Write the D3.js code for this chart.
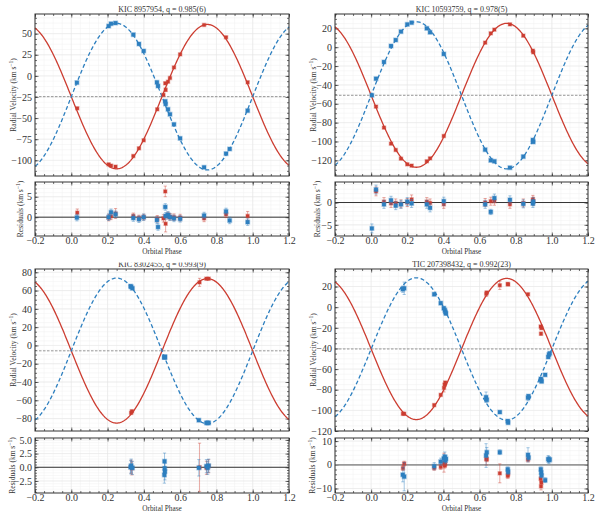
<!DOCTYPE html>
<html>
<head>
<meta charset="utf-8">
<script src="https://cdn.jsdelivr.net/npm/d3@7"></script>
<style>
body { margin: 0; background: #fff; }
text { font-family: "Liberation Serif", "Times New Roman", serif; fill: #333; }
</style>
</head>
<body>
<div id="vis"></div>
<script>
// ---- data: [phase, rv, residual, error] ----
const titles = ["KIC 8957954, q = 0.985(6)", "KIC 10593759, q = 0.978(5)",
                "KIC 8302455, q = 0.993(9)", "TIC 207398432, q = 0.992(23)"];

// orbit solutions [gamma, K1, K2]
const orbitA = [-24.6, 85.5, 86.8];
const orbitB = [-51.0, 76.3, 78.0];
const orbitC = [-5.9, 79.0, 79.6];
const orbitD = [-40.5, 68.4, 69.0];

const primaryA = [
  [0.033, -38.4, 1.1, 0.9], [0.206, -104.8, -0.1, 0.8], [0.219, -106.3, 0.2, 0.8],
  [0.244, -107.5, 0.9, 1.2], [0.342, -94.9, 0.3, 0.7], [0.373, -85.8, -0.2, 0.7],
  [0.399, -76.3, 0.0, 0.7], [0.474, -39.6, -0.4, 0.8], [0.508, -22.5, -0.3, 0.9],
  [0.518, -8.8, 6.3, 1.3], [0.520, -16.5, -1.6, 2.0], [0.533, -6.9, 0.4, 0.8],
  [0.544, -2.5, 0.1, 0.8], [0.566, 10.0, 0.0, 0.8], [0.600, 25.5, -0.1, 0.8],
  [0.732, 60.3, -0.3, 0.8], [0.853, 45.7, 0.7, 0.8], [0.972, -7.6, 0.3, 1.1]
];
const secondaryA = [
  [0.031, -8.0, -0.1, 0.8], [0.206, 59.0, 0.0, 0.8], [0.219, 61.8, 1.2, 0.8],
  [0.244, 62.6, 0.7, 0.8], [0.342, 48.8, -0.2, 0.8], [0.373, 37.8, -0.5, 0.8],
  [0.399, 29.5, 0.0, 0.8], [0.472, -7.6, -0.7, 0.8], [0.478, -12.0, -2.4, 0.8],
  [0.518, -30.1, 2.5, 0.8], [0.520, -33.3, 0.3, 0.8], [0.533, -39.6, 0.6, 0.8],
  [0.544, -45.5, 0.0, 0.8], [0.566, -57.4, -0.3, 0.8], [0.600, -74.0, -0.4, 0.8],
  [0.732, -108.3, 0.4, 0.8], [0.853, -92.1, 1.4, 0.8], [0.873, -86.6, -0.8, 0.8],
  [0.972, -41.2, -1.2, 0.8]
];

const primaryB = [
  [0.027, -63.0, 2.5, 1.0], [0.071, -85.3, 0.2, 0.9], [0.110, -102.3, -0.2, 0.9],
  [0.136, -109.0, -0.1, 0.9], [0.165, -118.2, -0.3, 0.9], [0.200, -124.2, 0.0, 0.9],
  [0.224, -125.6, 0.7, 1.0], [0.308, -121.0, 0.2, 0.9], [0.326, -117.9, -0.1, 0.9],
  [0.402, -94.2, -0.4, 0.9], [0.631, 4.8, 0.0, 0.9], [0.662, 14.7, 0.3, 0.9],
  [0.682, 18.6, 0.3, 0.9], [0.768, 24.2, -0.4, 0.9], [0.842, 12.2, -0.1, 0.9],
  [0.895, -3.7, 0.7, 0.9], [0.897, -5.4, 0.3, 0.9]
];
const secondaryB = [
  [0.004, -51.0, -5.8, 1.0], [0.027, -33.4, 2.9, 1.0], [0.071, -15.7, -0.4, 0.9],
  [0.110, 1.3, 0.5, 0.9], [0.136, 7.6, -0.7, 0.9], [0.165, 16.5, -0.4, 0.9],
  [0.200, 24.2, 0.2, 0.9], [0.224, 26.0, -0.2, 0.9], [0.308, 20.0, -0.4, 0.9],
  [0.326, 15.8, -1.2, 0.9], [0.402, -7.2, 0.3, 0.9], [0.631, -108.7, -0.4, 0.9],
  [0.662, -120.0, -2.1, 0.6], [0.682, -121.0, 1.0, 0.9], [0.768, -127.8, 0.6, 0.9],
  [0.842, -116.0, -0.3, 0.9], [0.895, -98.4, -0.2, 0.9], [0.897, -100.5, 0.2, 0.9]
];

const primaryC = [
  [0.330, -73.8, 0.1, 1.2], [0.334, -72.0, -0.2, 1.2], [0.707, 69.0, 0.0, 4.4],
  [0.745, 73.0, -0.1, 1.2], [0.757, 73.0, 0.2, 1.2]
];
const secondaryC = [
  [0.327, 64.8, 0.0, 1.2], [0.330, 64.0, 0.3, 1.2], [0.337, 62.5, -0.1, 1.2],
  [0.514, -12.8, 1.1, 1.5], [0.515, -12.5, -0.2, 1.5], [0.513, -13.0, -1.4, 1.5],
  [0.516, -12.9, -0.8, 1.5], [0.703, -81.8, -0.1, 1.5], [0.745, -84.7, 0.2, 1.2],
  [0.752, -84.7, -0.1, 1.2], [0.757, -84.7, 0.3, 1.2]
];

const primaryD = [
  [0.176, -103.3, -1.4, 1.0], [0.183, -103.3, 0.5, 1.0], [0.349, -94.9, -1.3, 1.0],
  [0.385, -85.0, -0.9, 1.0], [0.403, -78.2, 0.9, 4.0], [0.407, -75.0, -0.4, 1.0],
  [0.410, -73.0, 0.3, 1.0], [0.637, 12.9, 2.4, 2.5], [0.640, 14.2, 2.3, 1.0],
  [0.712, 21.2, -3.6, 4.0], [0.756, 22.5, -4.7, 1.0], [0.758, 22.0, -3.9, 1.0],
  [0.868, 12.5, 2.2, 1.0], [0.938, -18.7, -5.9, 1.0], [0.940, -25.7, -9.1, 1.5],
  [0.942, -20.3, -7.5, 1.0]
];
const secondaryD = [
  [0.175, 17.4, -4.2, 3.0], [0.183, 18.3, -5.0, 6.0], [0.349, 12.5, -0.6, 1.5],
  [0.385, 3.9, 1.3, 1.5], [0.402, -1.0, 2.7, 1.5], [0.408, -2.9, 3.4, 2.0],
  [0.411, -4.8, 1.9, 1.5], [0.414, -6.1, 2.5, 1.5], [0.636, -87.2, 3.9, 5.0],
  [0.640, -89.8, 5.3, 2.0], [0.712, -101.7, 5.3, 1.0], [0.756, -110.4, -1.9, 1.0],
  [0.758, -112.0, -3.0, 1.0], [0.868, -87.8, 4.2, 3.0], [0.871, -86.2, 3.0, 1.0],
  [0.939, -69.5, -1.9, 1.0], [0.941, -70.8, -3.3, 1.0], [0.943, -72.0, -4.5, 1.0],
  [0.963, -65.6, -6.5, 1.0], [0.980, -48.3, 2.4, 1.5], [0.984, -46.0, 2.0, 1.5],
  [0.988, -44.7, 2.2, 1.0]
];

const phaseTicks = [-0.2, 0.0, 0.2, 0.4, 0.6, 0.8, 1.0, 1.2];

const red = "#cc3d31";
const blue = "#2d7fbf";

const svg = d3.select("#vis")
    .append("svg")
    .attr("width", 600)
    .attr("height", 511);

svg.append("rect")
    .attr("width", 600)
    .attr("height", 511)
    .attr("fill", "#fff");

const panels = [
  {title: titles[0], orbit: orbitA, p: primaryA, s: secondaryA, left: 35, right: 289,
   rvTop: 14, rvBot: 176, resTop: 182, resBot: 236, titleY: 11.5,
   rvDom: [-118.6, 73.3], rvMajor: [-100, -75, -50, -25, 0, 25, 50], rvStep: 6.25,
   resDom: [-4.6, 8.6], resMajor: [0, 5], resStep: 1, resFmt: d3.format("d"), resLabelDx: 12, zero: "#333"},
  {title: titles[1], orbit: orbitB, p: primaryB, s: secondaryB, left: 335, right: 588,
   rvTop: 14, rvBot: 176, resTop: 182, resBot: 236, titleY: 11.5,
   rvDom: [-136.6, 35.2], rvMajor: [-120, -100, -80, -60, -40, -20, 0, 20], rvStep: 5,
   resDom: [-7.5, 4.6], resMajor: [-5, 0], resStep: 1, resFmt: d3.format("d"), resLabelDx: 15, zero: "#333"},
  {title: titles[2], orbit: orbitC, p: primaryC, s: secondaryC, left: 35, right: 289,
   rvTop: 269, rvBot: 431, resTop: 438, resBot: 493, titleY: 266.5, clipTitle: 262.5,
   rvDom: [-93.6, 83.6], rvMajor: [-80, -60, -40, -20, 0, 20, 40, 60, 80], rvStep: 5,
   resDom: [-4.7, 5.35], resMajor: [-2.5, 0, 2.5, 5], resStep: 0.5, resFmt: d3.format(".1f"), resLabelDx: 20, zero: "#333"},
  {title: titles[3], orbit: orbitD, p: primaryD, s: secondaryD, left: 335, right: 588,
   rvTop: 269, rvBot: 431, resTop: 438, resBot: 493, titleY: 267,
   rvDom: [-120, 37], rvMajor: [-120, -100, -80, -60, -40, -20, 0, 20], rvStep: 5,
   resDom: [-11.9, 11.3], resMajor: [-10, 0, 10], resStep: 2, resFmt: d3.format("d"), resLabelDx: 20, zero: "#999"}
];

function minorTicks(dom, step) {
  const lo = Math.ceil(dom[0] / step) * step;
  return d3.range(lo, dom[1], step).map(v => +v.toFixed(4));
}

// frame with grid and inward ticks on every side
function frame(g, x, y, top, bot, left, right, yMajor, yMinor, yFmt, xLabels) {
  const xMinor = minorTicks([-0.2, 1.2001], 0.05);

  g.append("g").selectAll("line").data(xMinor).join("line")
      .attr("x1", d => x(d)).attr("x2", d => x(d))
      .attr("y1", top).attr("y2", bot)
      .attr("stroke", "#f1f1f1").attr("stroke-width", 0.5);
  g.append("g").selectAll("line").data(yMinor).join("line")
      .attr("x1", left).attr("x2", right)
      .attr("y1", d => y(d)).attr("y2", d => y(d))
      .attr("stroke", "#f1f1f1").attr("stroke-width", 0.5);
  g.append("g").selectAll("line").data(phaseTicks).join("line")
      .attr("x1", d => x(d)).attr("x2", d => x(d))
      .attr("y1", top).attr("y2", bot)
      .attr("stroke", "#e4e4e4").attr("stroke-width", 0.5);
  g.append("g").selectAll("line").data(yMajor).join("line")
      .attr("x1", left).attr("x2", right)
      .attr("y1", d => y(d)).attr("y2", d => y(d))
      .attr("stroke", "#e4e4e4").attr("stroke-width", 0.5);

  const put = (gen, tr, size, fmt, pad) => {
    g.append("g")
        .attr("transform", tr)
        .attr("color", "#333")
        .attr("font-size", 6)
        .call(gen.tickSize(-size).tickPadding(pad).tickFormat(fmt))
        .call(a => a.select(".domain").remove())
        .call(a => a.selectAll("line").attr("stroke-width", 0.7));
  };
  put(d3.axisLeft(y).tickValues(yMajor), `translate(${left},0)`, 3.5, yFmt, 3);
  put(d3.axisLeft(y).tickValues(yMinor), `translate(${left},0)`, 2, "", 3);
  put(d3.axisRight(y).tickValues(yMajor), `translate(${right},0)`, 3.5, "", 3);
  put(d3.axisRight(y).tickValues(yMinor), `translate(${right},0)`, 2, "", 3);
  put(d3.axisBottom(x).tickValues(phaseTicks), `translate(0,${bot})`, 3.5, xLabels ? d3.format(".1f") : "", 1);
  put(d3.axisBottom(x).tickValues(xMinor), `translate(0,${bot})`, 2, "", 1);
  put(d3.axisTop(x).tickValues(phaseTicks), `translate(0,${top})`, 3.5, "", 1);
  put(d3.axisTop(x).tickValues(xMinor), `translate(0,${top})`, 2, "", 1);
}

function border(g, top, bot, left, right) {
  g.append("rect")
      .attr("x", left).attr("y", top)
      .attr("width", right - left).attr("height", bot - top)
      .attr("fill", "none")
      .attr("stroke", "#333")
      .attr("stroke-width", 1);
}

function points(g, data, x, y, idx, color, size) {
  const cap = 1.6;
  const e = g.append("g");
  e.selectAll(".bar").data(data).join("line")
      .attr("x1", d => x(d[0])).attr("x2", d => x(d[0]))
      .attr("y1", d => y(d[idx] - d[3])).attr("y2", d => y(d[idx] + d[3]))
      .attr("stroke", color).attr("stroke-opacity", 0.55).attr("stroke-width", 0.8);
  [-1, 1].forEach(sgn => {
    e.selectAll(".cap" + sgn).data(data).join("line")
        .attr("x1", d => x(d[0]) - cap).attr("x2", d => x(d[0]) + cap)
        .attr("y1", d => y(d[idx] + sgn * d[3])).attr("y2", d => y(d[idx] + sgn * d[3]))
        .attr("stroke", color).attr("stroke-opacity", 0.55).attr("stroke-width", 0.8);
  });
  g.append("g").selectAll("rect").data(data).join("rect")
      .attr("x", d => x(d[0]) - size / 2)
      .attr("y", d => y(d[idx]) - size / 2)
      .attr("width", size).attr("height", size)
      .attr("fill", color)
      .attr("stroke", color)
      .attr("stroke-opacity", 0.35)
      .attr("stroke-width", 1.4);
}

panels.forEach((c, i) => {
  const g = svg.append("g");
  const x = d3.scaleLinear().domain([-0.2, 1.2]).range([c.left, c.right]);
  const y = d3.scaleLinear().domain(c.rvDom).range([c.rvBot, c.rvTop]);
  const yr = d3.scaleLinear().domain(c.resDom).range([c.resBot, c.resTop]);
  const mid = (c.left + c.right) / 2;

  // radial velocity panel
  frame(g, x, y, c.rvTop, c.rvBot, c.left, c.right, c.rvMajor, minorTicks(c.rvDom, c.rvStep), d3.format("d"), false);

  const gamma = c.orbit[0];
  g.append("line")
      .attr("x1", c.left).attr("x2", c.right)
      .attr("y1", y(gamma)).attr("y2", y(gamma))
      .attr("stroke", "#8a8a8a").attr("stroke-width", 0.9)
      .attr("stroke-dasharray", "2.5,1.5");

  const phases = d3.range(-0.2, 1.2001, 0.004);
  const line = d3.line().x(d => x(d[0])).y(d => y(d[1]));
  g.append("path")
      .datum(phases.map(p => [p, gamma - c.orbit[1] * Math.sin(2 * Math.PI * p)]))
      .attr("d", line)
      .attr("fill", "none").attr("stroke", red).attr("stroke-width", 1.3);
  g.append("path")
      .datum(phases.map(p => [p, gamma + c.orbit[2] * Math.sin(2 * Math.PI * p)]))
      .attr("d", line)
      .attr("fill", "none").attr("stroke", blue).attr("stroke-width", 1.3)
      .attr("stroke-dasharray", "4,2.5");

  points(g, c.p, x, y, 1, red, 3.2);
  points(g, c.s, x, y, 1, blue, 3.8);
  border(g, c.rvTop, c.rvBot, c.left, c.right);

  // residual panel
  frame(g, x, yr, c.resTop, c.resBot, c.left, c.right, c.resMajor, minorTicks(c.resDom, c.resStep), c.resFmt, true);
  g.append("line")
      .attr("x1", c.left).attr("x2", c.right)
      .attr("y1", yr(0)).attr("y2", yr(0))
      .attr("stroke", c.zero).attr("stroke-width", c.zero === "#333" ? 1 : 1.8);
  points(g, c.p, x, yr, 2, red, 3.2);
  points(g, c.s, x, yr, 2, blue, 3.8);
  border(g, c.resTop, c.resBot, c.left, c.right);

  // texts
  const t = g.append("text")
      .attr("x", mid).attr("y", c.titleY)
      .attr("text-anchor", "middle")
      .attr("font-size", 8)
      .text(c.title);
  if (c.clipTitle) {
    svg.append("clipPath").attr("id", "clip" + i)
        .append("rect")
        .attr("x", c.left).attr("y", c.clipTitle)
        .attr("width", c.right - c.left).attr("height", 20);
    t.attr("clip-path", `url(#clip${i})`);
  }

  g.append("text")
      .attr("x", mid).attr("y", c.resBot + 17.5)
      .attr("text-anchor", "middle")
      .attr("font-size", 7.3)
      .text("Orbital Phase");

  const ylab = (txt, cx, cy) => {
    const tx = g.append("text")
        .attr("transform", `translate(${cx},${cy}) rotate(-90)`)
        .attr("text-anchor", "middle")
        .attr("font-size", 7.5);
    tx.append("tspan").text(txt + " (km s");
    tx.append("tspan").attr("dy", -2.8).attr("font-size", 5.5).text("−1");
    tx.append("tspan").attr("dy", 2.8).text(")");
  };
  ylab("Radial Velocity", c.left - 19, (c.rvTop + c.rvBot) / 2);
  ylab("Residuals", c.left - c.resLabelDx, (c.resTop + c.resBot) / 2);
});
</script>
</body>
</html>
